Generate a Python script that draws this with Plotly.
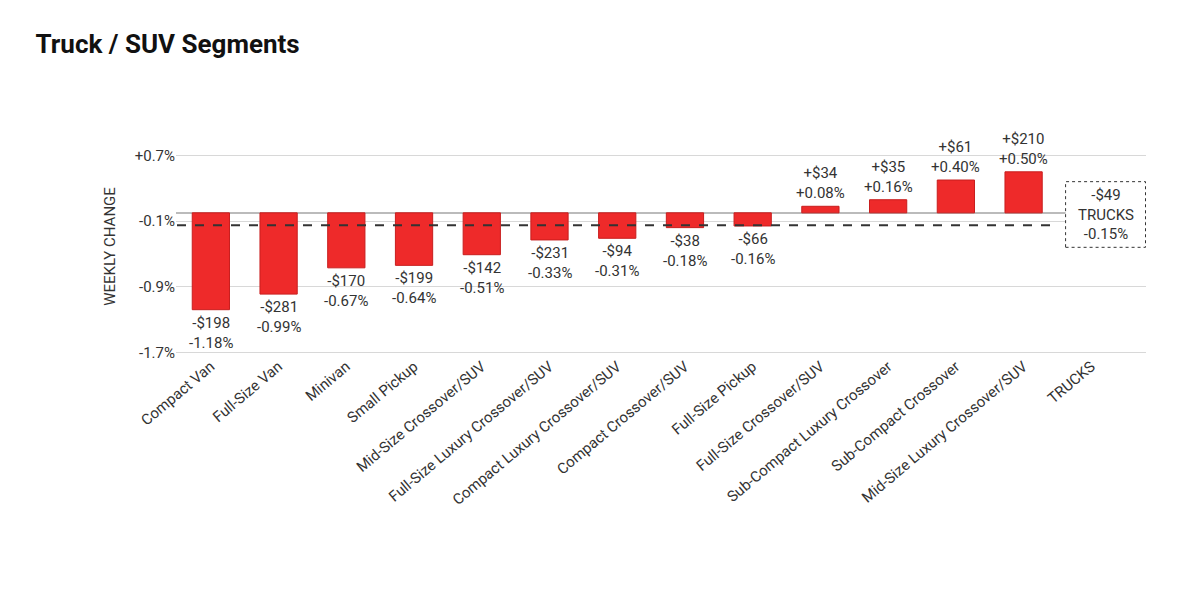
import plotly.graph_objects as go

# Données du graphique
segments = ["Compact Van", "Full-Size Van", "Minivan", "Small Pickup",
            "Mid-Size Crossover/SUV", "Full-Size Luxury Crossover/SUV",
            "Compact Luxury Crossover/SUV", "Compact Crossover/SUV",
            "Full-Size Pickup", "Full-Size Crossover/SUV",
            "Sub-Compact Luxury Crossover", "Sub-Compact Crossover",
            "Mid-Size Luxury Crossover/SUV", "TRUCKS"]
pct_change = [-1.18, -0.99, -0.67, -0.64, -0.51, -0.33, -0.31, -0.18,
              -0.16, 0.08, 0.16, 0.40, 0.50]
dollar_change = ["-$198", "-$281", "-$170", "-$199", "-$142", "-$231", "-$94",
                 "-$38", "-$66", "+$34", "+$35", "+$61", "+$210"]
trucks_pct = -0.15
trucks_dollar = "-$49"
tick_vals = [0.7, -0.1, -0.9, -1.7]
tick_text = ["+0.7%", "-0.1%", "-0.9%", "-1.7%"]

fig = go.Figure()
fig.add_trace(go.Bar(x=segments[:-1], y=pct_change, marker_color="#ee2a2a",
                     marker_line_color="#c81e1e", marker_line_width=1,
                     width=0.55, hoverinfo="skip"))
# Placeholder pour la catégorie TRUCKS
fig.add_trace(go.Bar(x=[segments[-1]], y=[0], hoverinfo="skip"))

# Ligne de moyenne (pointillés)
fig.add_shape(type="line", xref="x", yref="y", x0=-0.5, x1=12.5,
              y0=trucks_pct, y1=trucks_pct,
              line=dict(color="#333", width=2, dash="dash"))
# Cadre pointillé autour de l'étiquette TRUCKS
fig.add_shape(type="rect", xref="x", yref="y", x0=12.62, x1=13.8,
              y0=-0.42, y1=0.38, fillcolor="white",
              line=dict(color="#333", width=1, dash="dot"))

# Étiquettes des barres
for seg, pct, usd in zip(segments, pct_change, dollar_change):
    sign = "+" if pct > 0 else ""
    fig.add_annotation(x=seg, y=pct, text=f"{usd}<br>{sign}{pct:.2f}%",
                       showarrow=False, yanchor="bottom" if pct > 0 else "top",
                       yshift=2 if pct > 0 else -2,
                       font=dict(size=15, color="#333", family="Roboto"))
fig.add_annotation(x=13.21, y=trucks_pct + 0.13,
                   text=f"{trucks_dollar}<br>TRUCKS<br>{trucks_pct:.2f}%",
                   showarrow=False,
                   font=dict(size=15, color="#333", family="Roboto"))

fig.update_layout(
    width=1200, height=594, plot_bgcolor="white", paper_bgcolor="white",
    showlegend=False, bargap=0.4,
    margin=dict(l=168, r=62, t=131, b=248),
    title=dict(text="<b>Truck / SUV Segments</b>", x=0.023, xanchor="left",
               y=0.939, yanchor="middle",
               font=dict(size=26, color="#111", family="Roboto")),
    font=dict(family="Roboto", color="#333"),
)
fig.update_yaxes(range=[-1.72, 0.9], tickvals=tick_vals, ticktext=tick_text,
                 showgrid=True, gridcolor="#d8d8d8", zeroline=True,
                 zerolinecolor="#bbb", tickfont=dict(size=15),
                 title=dict(text="WEEKLY CHANGE", font=dict(size=15)))
fig.update_xaxes(tickangle=-40, tickfont=dict(size=15), showline=False,
                 categoryorder="array", categoryarray=segments)

fig.write_html("out.html")
